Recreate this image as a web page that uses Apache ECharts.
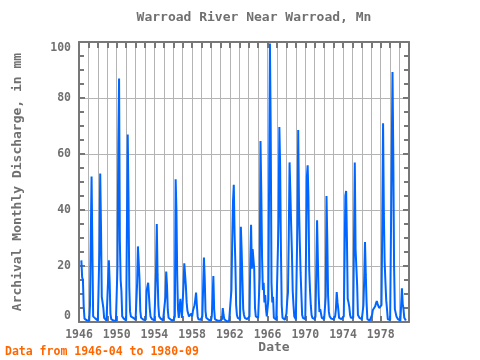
<!DOCTYPE html>
<html>
<head>
<meta charset="utf-8">
<script src="https://cdn.jsdelivr.net/npm/echarts@6/dist/echarts.min.js"></script>
<style>html,body{margin:0;padding:0;background:#fff}#c{width:480px;height:360px}</style>
</head>
<body>
<div id="c"></div>
<script>
// Monthly discharge (mm), starting 1946-04, ending 1980-09
const startYear = 1946;
const startMonth = 4;
const discharge = [
  /*1946*/ 22, 16, 15, 5.5, 1.2, 0.8, 0.8, 0.6, 0.5,
  /*1947*/ 0.4, 0.4, 6, 30, 52, 27, 2, 1.5, 1.5, 1.2, 0.8, 0.5,
  /*1948*/ 0.5, 0.8, 26, 53, 34, 9, 8.5, 5, 1.5, 1, 0.8, 0.5,
  /*1949*/ 0.5, 0.5, 22, 14.4, 3, 1, 0.8, 0.6, 0.5, 0.6, 0.5, 0.4,
  /*1950*/ 0.5, 20, 63, 87, 29, 15, 11, 2, 1.5, 1.2, 1, 0.6,
  /*1951*/ 0.6, 1, 67, 44.6, 12.5, 3.7, 2, 1.5, 1.5, 1.5, 1, 0.8,
  /*1952*/ 0.8, 1, 14, 27, 27, 15.4, 4, 1.5, 1.2, 1, 0.8, 0.6,
  /*1953*/ 0.6, 0.8, 11, 11.5, 14, 9.6, 5, 2, 1.5, 1, 0.8, 0.6,
  /*1954*/ 0.6, 0.8, 18, 35, 17, 5.8, 2, 1.5, 1.2, 1, 0.8, 0.6,
  /*1955*/ 0.6, 1, 9, 18, 13, 4.3, 1.5, 1, 0.8, 0.8, 0.6, 0.5,
  /*1956*/ 0.5, 0.6, 2, 51, 40, 16.4, 4.6, 1.5, 1.2, 8.3, 4.6, 1.5,
  /*1957*/ 1.5, 13, 21, 21.4, 13, 7, 4, 4, 2, 2, 1.5, 3,
  /*1958*/ 2, 4, 4.5, 6, 8, 10.5, 6, 2, 1, 1.2, 1, 0.8,
  /*1959*/ 0.8, 2, 12.5, 23, 15.7, 4, 1.5, 1, 0.8, 0.8, 0.6, 0.5,
  /*1960*/ 0.5, 2, 8.3, 16.4, 4.6, 1, 0.8, 0.6, 0.5, 0.5, 0.5, 0.4,
  /*1961*/ 0.4, 0.4, 1, 5, 2.5, 1, 0.5, 0.4, 0.3, 0.3, 0.3, 0.3,
  /*1962*/ 0.5, 1, 11.4, 29, 43, 49, 31.5, 21, 6, 2.5, 1.5, 1,
  /*1963*/ 0.8, 1, 34, 25.4, 14.7, 4.6, 2.5, 1.5, 1.2, 1, 1, 0.8,
  /*1964*/ 1, 2, 21.4, 34.7, 19, 26, 25.4, 19, 5, 2, 1.5, 1.5,
  /*1965*/ 1.5, 2, 16, 64.6, 46.4, 23, 11.4, 14, 7, 9.6, 4.6, 2,
  /*1966*/ 1.5, 8, 52.5, 99.5, 69, 14, 7, 9, 1.5, 1, 1, 0.8,
  /*1967*/ 0.8, 1, 36, 69.6, 55.7, 26, 6, 1.5, 1, 1, 0.8, 0.8,
  /*1968*/ 3, 7.5, 10.7, 31, 57, 46.4, 34.8, 24.8, 11, 6, 2, 1.5,
  /*1969*/ 1, 1.5, 35, 68.6, 42, 28.6, 17.8, 10, 2.5, 1.5, 1.2, 1,
  /*1970*/ 1, 1, 51.8, 56, 45, 18.6, 11.4, 6, 2.5, 1.5, 1.2, 1,
  /*1971*/ 1, 2, 18.6, 36.3, 22.6, 9.6, 3.6, 4.6, 3, 1.5, 1.2, 1,
  /*1972*/ 1, 1.5, 9, 45, 29.7, 9.6, 3.6, 2, 1.5, 1.2, 1, 1,
  /*1973*/ 1, 1, 2, 4.6, 10.7, 7, 4.6, 1.5, 1, 1, 1, 1.5,
  /*1974*/ 1.5, 2, 22.6, 45, 46.8, 29.7, 8.3, 7, 5.4, 2.5, 1.5, 1.2,
  /*1975*/ 1, 1.5, 29, 57, 26, 26.4, 13.3, 2.5, 3, 1.5, 1.2, 1,
  /*1976*/ 1, 1.5, 6, 15.5, 28.6, 17, 7, 1, 0.8, 0.6, 0.5, 0.5,
  /*1977*/ 1, 2.5, 4.3, 4.2, 4, 5.6, 6.7, 7.5, 6.5, 6, 5, 5,
  /*1978*/ 5, 6, 36, 71, 38.7, 21.4, 14.3, 7.8, 4.6, 1, 0.8, 0.8,
  /*1979*/ 0.8, 0.8, 1, 89.3, 60, 20, 4.6, 4.3, 2, 1.5, 1, 0.8,
  /*1980*/ 0.5, 0.5, 6, 12, 6.5, 4.6, 1.5, 0.8, 0.5
];
const xMin = 1946, xMax = 1981, xLabelStep = 4, xLastLabel = 1978;
const yMin = 0, yMax = 100, yStep = 20;

const titleText = 'Warroad River Near Warroad, Mn';
const yName = 'Archival Monthly Discharge, in mm';
const xName = 'Date';
const footText = 'Data from 1946-04 to 1980-09';

const points = discharge.map((v, i) => [startYear + (startMonth - 1 + i) / 12, v]);

const FONT = 'DejaVu Sans Mono';
const AX = '#777777';
const GRID = '#b4b4b4';
const TXT = '#707070';

const chart = echarts.init(document.getElementById('c'), null, {renderer: 'canvas'});

const xBase = {
  type: 'value', min: xMin, max: xMax, interval: 1,
  axisLine: {show: true, onZero: false, lineStyle: {color: AX, width: 2}},
  axisTick: {show: true, inside: true, length: 6, lineStyle: {color: AX, width: 2}},
  splitLine: {show: false},
  axisLabel: {show: false}
};
const yBase = {
  type: 'value', min: yMin, max: yMax, interval: yStep,
  axisLine: {show: true, onZero: false, lineStyle: {color: AX, width: 2}},
  axisTick: {show: true, inside: true, length: 6, lineStyle: {color: AX, width: 2}},
  minorTick: {show: true, splitNumber: 4, length: 5, lineStyle: {color: AX, width: 2}},
  splitLine: {show: false},
  axisLabel: {show: false}
};

chart.setOption({
  animation: false,
  grid: {left: 79, right: 71, top: 42, bottom: 38, containLabel: false},
  xAxis: [
    Object.assign({}, xBase, {
      position: 'bottom',
      splitLine: {show: true, lineStyle: {color: GRID, width: 1}},
      axisLabel: {
        show: true, color: TXT, fontFamily: FONT, fontWeight: 'bold', fontSize: 11.5, margin: 7,
        showMaxLabel: false,
        formatter: v => ((v - xMin) % xLabelStep === 0 && v <= xLastLabel) ? String(v) : ''
      }
    }),
    Object.assign({}, xBase, {position: 'top'})
  ],
  yAxis: [
    Object.assign({}, yBase, {
      position: 'left',
      splitLine: {show: true, lineStyle: {color: GRID, width: 1}},
      axisLabel: {
        show: true, color: TXT, fontFamily: FONT, fontWeight: 'bold', fontSize: 11.5, margin: 8,
        verticalAlignMinLabel: 'bottom', verticalAlignMaxLabel: 'top'
      }
    }),
    Object.assign({}, yBase, {position: 'right'})
  ],
  series: [{
    type: 'line',
    data: points,
    showSymbol: false,
    symbol: 'none',
    lineStyle: {color: '#0066ff', width: 2},
    z: 3
  }],
  graphic: [
    {type: 'text', x: 254, y: 18, style: {text: titleText, fill: TXT, font: 'bold 13px "DejaVu Sans Mono"', textAlign: 'center', textVerticalAlign: 'middle'}},
    {type: 'text', x: 274, y: 348, style: {text: xName, fill: TXT, font: 'bold 13px "DejaVu Sans Mono"', textAlign: 'center', textVerticalAlign: 'middle'}},
    {type: 'text', x: 18, y: 182, rotation: Math.PI / 2, style: {text: yName, fill: TXT, font: 'bold 13px "DejaVu Sans Mono"', textAlign: 'center', textVerticalAlign: 'middle'}},
    {type: 'text', x: 5, y: 352, style: {text: footText, fill: '#ff6600', font: 'bold 11.5px "DejaVu Sans Mono"', textAlign: 'left', textVerticalAlign: 'middle'}}
  ]
});
</script>
</body>
</html>
